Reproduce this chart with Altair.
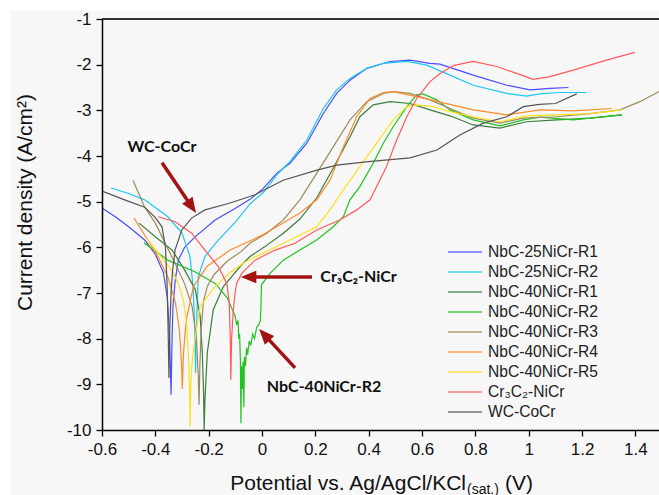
import math
import altair as alt
import pandas as pd

# ---------------- data ----------------
series_names = ["NbC-25NiCr-R1", "NbC-25NiCr-R2", "NbC-40NiCr-R1", "NbC-40NiCr-R2",
                "NbC-40NiCr-R3", "NbC-40NiCr-R4", "NbC-40NiCr-R5", "Cr₃C₂-NiCr", "WC-CoCr"]
series_colors = ["#4a4cff", "#1cc8f0", "#3b7d3b", "#1fc41f", "#9c8c5c",
                 "#ff8a2a", "#ffe01a", "#ff5a5a", "#555555"]

nbc25_r1_v = [-0.6, -0.55, -0.5, -0.44, -0.40, -0.37, -0.355, -0.347, -0.341, -0.338, -0.334, -0.325,
              -0.314, -0.29, -0.251, -0.176, -0.101, -0.045, 0.005, 0.055, 0.105, 0.168, 0.23, 0.28,
              0.33, 0.393, 0.48, 0.555, 0.63, 0.667, 0.792, 0.918, 1.005, 1.08, 1.149]
nbc25_r1_i = [-5.14, -5.33, -5.55, -5.84, -6.15, -6.55, -7.1, -7.9, -9.23, -8.2, -7.3, -6.7,
              -6.28, -6.0, -5.77, -5.40, -5.15, -4.95, -4.71, -4.38, -4.16, -3.72, -3.07, -2.63,
              -2.34, -2.08, -1.93, -1.90, -1.97, -1.99, -2.23, -2.45, -2.55, -2.52, -2.50]

nbc25_r2_v = [-0.566, -0.5, -0.44, -0.353, -0.30, -0.27, -0.258, -0.252, -0.249, -0.246, -0.242, -0.239,
              -0.214, -0.164, -0.1, -0.045, 0.005, 0.055, 0.105, 0.168, 0.23, 0.28, 0.33, 0.393,
              0.455, 0.543, 0.618, 0.705, 0.792, 0.918, 0.992, 1.042, 1.117, 1.217]
nbc25_r2_i = [-4.70, -4.82, -4.96, -5.33, -5.69, -6.2, -6.9, -7.8, -8.75, -7.8, -7.1, -6.64,
              -6.2, -5.84, -5.45, -5.05, -4.80, -4.42, -4.12, -3.65, -2.96, -2.55, -2.30, -2.08,
              -1.97, -1.93, -2.01, -2.23, -2.45, -2.63, -2.69, -2.64, -2.61, -2.61]

nbc40_r1_v = [-0.461, -0.40, -0.337, -0.29, -0.25, -0.232, -0.224, -0.219, -0.217, -0.214, -0.205, -0.195,
              -0.183, -0.145, -0.082, -0.045, 0.01, 0.08, 0.142, 0.205, 0.267, 0.33, 0.367, 0.417,
              0.48, 0.555, 0.63, 0.705, 0.792, 0.892, 0.992, 1.105, 1.23, 1.349]
nbc40_r1_i = [-5.47, -5.77, -6.06, -6.5, -6.93, -7.5, -8.3, -9.2, -10.0, -9.34, -8.3, -7.88,
              -7.37, -6.86, -6.42, -6.2, -5.99, -5.69, -5.38, -4.92, -4.27, -3.58, -3.14, -2.88,
              -2.81, -2.85, -2.99, -3.12, -3.32, -3.39, -3.25, -3.21, -3.17, -3.10]

nbc40_r2_v = [-0.443, -0.353, -0.25, -0.176, -0.131, -0.101, -0.095, -0.09, -0.087, -0.084,
              -0.081, -0.079, -0.077, -0.074, -0.071, -0.068, -0.066, -0.062, -0.058, -0.054,
              -0.048, -0.042, -0.035, -0.028, -0.02, -0.012, -0.006, -0.004, -0.002, 0.03,
              0.08, 0.142, 0.205, 0.267, 0.305, 0.33, 0.367, 0.417, 0.455, 0.492,
              0.543, 0.58, 0.604, 0.655, 0.705, 0.792, 0.892, 0.98, 1.04, 1.167, 1.35]
nbc40_r2_i = [-5.9, -6.28, -6.54, -6.79, -7.1, -7.5, -7.7, -7.6, -8.0, -7.9,
              -8.5, -9.85, -8.6, -9.1, -8.5, -9.5, -8.4, -8.6, -8.2, -8.35,
              -8.05, -8.15, -7.9, -8.0, -7.75, -7.7, -7.6, -7.3, -6.82, -6.57,
              -6.28, -6.06, -5.84, -5.55, -5.33, -4.96, -4.67, -4.16, -3.72, -3.36,
              -2.92, -2.66, -2.64, -2.77, -2.99, -3.21, -3.34, -3.21, -3.15, -3.21, -3.10]

nbc40_r3_v = [-0.484, -0.44, -0.40, -0.364, -0.326, -0.29, -0.262, -0.246, -0.239, -0.236,
              -0.233, -0.228, -0.22, -0.205, -0.18, -0.13, -0.08, -0.045, 0.018, 0.08,
              0.142, 0.205, 0.267, 0.33, 0.393, 0.455, 0.492, 0.555, 0.63, 0.705,
              0.792, 0.892, 0.98, 1.105, 1.23, 1.342, 1.417, 1.489]
nbc40_r3_i = [-4.53, -5.12, -5.47, -5.9, -6.35, -6.8, -7.3, -8.0, -8.8, -9.45,
              -8.6, -7.8, -7.2, -6.85, -6.6, -6.3, -6.1, -5.91, -5.69, -5.40,
              -4.96, -4.38, -3.80, -3.21, -2.81, -2.63, -2.59, -2.63, -2.77, -2.96,
              -3.17, -3.28, -3.17, -3.14, -3.07, -2.99, -2.81, -2.59]

nbc40_r4_v = [-0.48, -0.44, -0.39, -0.353, -0.325, -0.31, -0.302, -0.299, -0.295, -0.289,
              -0.282, -0.257, -0.207, -0.12, -0.045, 0.005, 0.055, 0.142, 0.205, 0.255,
              0.305, 0.355, 0.405, 0.455, 0.492, 0.58, 0.705, 0.792, 0.918, 1.042,
              1.167, 1.311]
nbc40_r4_i = [-5.36, -5.73, -6.2, -6.65, -7.2, -7.8, -8.5, -9.1, -8.39, -7.9,
              -7.52, -6.86, -6.42, -6.06, -5.86, -5.72, -5.55, -5.25, -4.96, -4.53,
              -3.80, -3.14, -2.74, -2.61, -2.59, -2.70, -2.87, -2.99, -3.10, -2.99,
              -3.01, -2.96]

nbc40_r5_v = [-0.433, -0.389, -0.339, -0.314, -0.295, -0.282, -0.275, -0.271, -0.27, -0.267,
              -0.263, -0.257, -0.245, -0.232, -0.182, -0.12, -0.057, 0.08, 0.205, 0.255,
              0.305, 0.367, 0.43, 0.492, 0.543, 0.58, 0.643, 0.705, 0.792, 0.892,
              0.992, 1.105, 1.23, 1.349]
nbc40_r5_i = [-5.80, -6.13, -6.5, -6.79, -7.15, -7.7, -8.5, -9.3, -9.93, -9.0,
              -8.6, -8.25, -7.75, -7.3, -6.9, -6.55, -6.3, -5.91, -5.55, -5.18,
              -4.74, -4.23, -3.72, -3.21, -2.92, -2.88, -2.92, -3.03, -3.14, -3.25,
              -3.12, -3.10, -3.07, -2.99]

cr3c2_v = [-0.389, -0.326, -0.264, -0.214, -0.164, -0.132, -0.123, -0.119, -0.117, -0.114,
           -0.108, -0.101, -0.095, -0.076, -0.026, 0.049, 0.124, 0.205, 0.292, 0.355,
           0.405, 0.43, 0.467, 0.505, 0.543, 0.58, 0.63, 0.667, 0.717, 0.792,
           0.88, 0.955, 1.017, 1.08, 1.167, 1.292, 1.398]
cr3c2_i = [-5.33, -5.44, -5.69, -6.06, -6.42, -6.79, -7.2, -8.0, -8.9, -8.0,
           -7.4, -7.0, -6.79, -6.57, -6.28, -6.06, -5.91, -5.62, -5.40, -5.18,
           -4.96, -4.67, -4.23, -3.65, -3.14, -2.74, -2.37, -2.2, -2.02, -1.93,
           -2.04, -2.19, -2.32, -2.26, -2.12, -1.90, -1.73]

wc_cocr_v = [-0.6, -0.52, -0.44, -0.4, -0.375, -0.362, -0.356, -0.352, -0.349, -0.346,
             -0.341, -0.335, -0.326, -0.301, -0.264, -0.214, -0.126, -0.026, 0.079, 0.206,
             0.28, 0.39, 0.555, 0.656, 0.742, 0.83, 0.918, 0.98, 1.04, 1.10, 1.18]
wc_cocr_i = [-4.77, -4.95, -5.12, -5.35, -5.55, -6.0, -6.8, -7.8, -8.86, -7.8,
             -7.0, -6.5, -6.06, -5.62, -5.36, -5.18, -5.04, -4.85, -4.53, -4.31,
             -4.2, -4.13, -4.04, -3.87, -3.54, -3.28, -3.14, -2.92, -2.87, -2.85, -2.64]

series_data = [(nbc25_r1_v, nbc25_r1_i), (nbc25_r2_v, nbc25_r2_i), (nbc40_r1_v, nbc40_r1_i),
               (nbc40_r2_v, nbc40_r2_i), (nbc40_r3_v, nbc40_r3_i), (nbc40_r4_v, nbc40_r4_i),
               (nbc40_r5_v, nbc40_r5_i), (cr3c2_v, cr3c2_i), (wc_cocr_v, wc_cocr_i)]

# annotations (data coordinates)
ann_labels = ["WC-CoCr", "Cr₃C₂-NiCr", "NbC-40NiCr-R2"]
ann_text_v = [-0.375, 0.362, 0.2325]
ann_text_i = [-3.80, -6.65, -9.06]
arrow_start_v = [-0.375, 0.1875, 0.124]
arrow_start_i = [-4.15, -6.65, -8.64]
arrow_tip_v = [-0.2475, -0.079, -0.011]
arrow_tip_i = [-5.25, -6.65, -7.79]

# ---------------- layout ----------------
W, H = 557, 411
XMIN, XMAX = -0.6, 1.4887
YMIN, YMAX = -10.0, -1.0
PAD_L, PAD_T, PAD_B = 102, 19, 65
FONT = "Arial"

rows = []
for name, (vs, cs) in zip(series_names, series_data):
    for k, (v, c) in enumerate(zip(vs, cs)):
        rows.append({"series": name, "V": v, "logI": c, "idx": k})
df = pd.DataFrame(rows)

x_ticks = [round(-0.6 + 0.05 * k, 2) for k in range(42)]
y_ticks = [-10 + 0.5 * k for k in range(19)]
x_major = "abs(datum.value*5 - round(datum.value*5)) < 0.001"
y_major = "abs(datum.value - round(datum.value)) < 0.001"

xscale = alt.Scale(domain=[XMIN, XMAX], nice=False, zero=False)
yscale = alt.Scale(domain=[YMIN, YMAX], nice=False, zero=False)
color_scale = alt.Scale(domain=series_names, range=series_colors)

x_axis = alt.Axis(values=x_ticks, title=None, zindex=2, labelFlush=False, labelOverlap=False,
                  labelExpr=f"{x_major} ? '' + round(datum.value*10)/10 : ''",
                  tickSize={"condition": {"test": x_major, "value": 6}, "value": 3},
                  labelPadding=5)
y_axis = alt.Axis(values=y_ticks, title="Current density (A/cm²)", zindex=2,
                  labelFlush=False, labelOverlap=False,
                  labelExpr=f"{y_major} ? '' + round(datum.value) : ''",
                  tickSize={"condition": {"test": y_major, "value": 6}, "value": 3},
                  labelPadding=5, titleFontSize=21, titleFont=FONT, titleFontWeight="normal",
                  titleColor="#111", titleX=-77, titleY=183, titleBaseline="middle")

lines = alt.Chart(df).mark_line(strokeWidth=1.2, clip=True).encode(
    x=alt.X("V:Q", scale=xscale, axis=x_axis),
    y=alt.Y("logI:Q", scale=yscale, axis=y_axis),
    color=alt.Color("series:N", sort=series_names, scale=color_scale, legend=None),
    order="idx:Q",
)

# background panel (grey area of the figure)
one = pd.DataFrame({"a": [0]})
panel = alt.Chart(one).mark_rect(color="#f7f7f7").encode(
    x=alt.value(10 - PAD_L), x2=alt.value(W + 5), y=alt.value(11 - PAD_T), y2=alt.value(H + PAD_B + 5))

top_rule = alt.Chart(one).mark_rule(color="#333333", strokeWidth=2).encode(
    x=alt.value(0), x2=alt.value(W), y=alt.value(0))

# legend (drawn from the series list)
LEG_X, LEG_Y0, LEG_DY = 448 - PAD_L, 252 - PAD_T, 20
leg_df = pd.DataFrame({"series": series_names,
                       "py": [LEG_Y0 + LEG_DY * k for k in range(len(series_names))]})
leg_lines = alt.Chart(leg_df).mark_rule(strokeWidth=1.5, opacity=0.8).encode(
    x=alt.value(LEG_X), x2=alt.value(LEG_X + 34), y=alt.Y("py:Q", scale=None),
    color=alt.Color("series:N", scale=color_scale, legend=None))
leg_text = alt.Chart(leg_df).mark_text(font=FONT, fontSize=15.6, color="#222", align="left",
                                       baseline="middle").encode(
    x=alt.value(LEG_X + 40), y=alt.Y("py:Q", scale=None), text="series:N")

# annotation arrows
kx = W / (XMAX - XMIN)
ky = H / (YMAX - YMIN)
arr_rows = []
for sv, si, tv, ti in zip(arrow_start_v, arrow_start_i, arrow_tip_v, arrow_tip_i):
    dx = (tv - sv) * kx
    dy = -(ti - si) * ky
    L = math.hypot(dx, dy)
    ang = math.degrees(math.atan2(dx, -dy)) % 360
    back = 10.0 / L
    arr_rows.append({"sv": sv, "si": si, "ev": tv - (tv - sv) * back, "ei": ti - (ti - si) * back,
                     "tv": tv, "ti": ti, "ang": ang})
arr_df = pd.DataFrame(arr_rows)
ARROW_COLOR = "#a31212"

shafts = alt.Chart(arr_df).mark_rule(color=ARROW_COLOR, strokeWidth=3.5).encode(
    x=alt.X("sv:Q", scale=xscale), y=alt.Y("si:Q", scale=yscale),
    x2="ev:Q", y2="ei:Q")
heads = alt.Chart(arr_df).mark_point(shape="M0,0L0.9,2.2L-0.9,2.2Z", filled=True, size=196,
                                     color=ARROW_COLOR, opacity=1).encode(
    x=alt.X("tv:Q", scale=xscale), y=alt.Y("ti:Q", scale=yscale),
    angle=alt.Angle("ang:Q", scale=None))

ann_df = pd.DataFrame({"label": ann_labels, "v": ann_text_v, "i": ann_text_i})
ann_text = alt.Chart(ann_df).mark_text(font="Lato", fontWeight="bold", fontSize=16,
                                       color="#111", align="center", baseline="middle").encode(
    x=alt.X("v:Q", scale=xscale), y=alt.Y("i:Q", scale=yscale), text="label:N")

# x-axis title with subscript
xt_main = alt.Chart(one).mark_text(text="Potential vs. Ag/AgCl/KCl", font=FONT, fontSize=21,
                                   align="right", baseline="alphabetic", color="#111").encode(
    x=alt.value(466 - PAD_L), y=alt.value(490 - PAD_T))
xt_sub = alt.Chart(one).mark_text(text="(sat.)", font=FONT, fontSize=14,
                                  align="left", baseline="alphabetic", color="#111").encode(
    x=alt.value(467 - PAD_L), y=alt.value(494 - PAD_T))
xt_v = alt.Chart(one).mark_text(text="(V)", font=FONT, fontSize=21,
                                align="left", baseline="alphabetic", color="#111").encode(
    x=alt.value(505 - PAD_L), y=alt.value(490 - PAD_T))

chart = alt.layer(panel, lines, top_rule, leg_lines, leg_text, shafts, heads, ann_text,
                  xt_main, xt_sub, xt_v).properties(
    width=W, height=H,
    autosize=alt.AutoSizeParams(type="none"),
    padding={"left": PAD_L, "top": PAD_T, "right": 0, "bottom": PAD_B},
    background="white",
).configure_view(stroke=None).configure_axis(
    domainColor="#000", domainWidth=1.5, tickColor="#000", tickWidth=1.3,
    labelFont=FONT, labelFontSize=17, labelColor="#111", grid=False,
)

chart.save("out.html", embed_options={"renderer": "svg", "actions": False})
